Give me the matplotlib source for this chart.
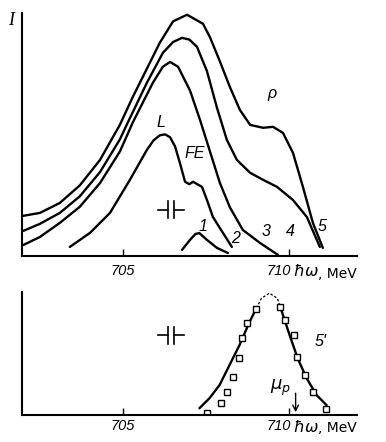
import matplotlib
matplotlib.use("Agg")
import matplotlib.pyplot as plt

# upper panel: spectra 1-5 (energy in MeV, intensity in arb. units)
e5 = [702.00, 702.50, 703.10, 703.70, 704.31, 704.91, 705.30, 705.60, 706.11, 706.51,
      706.93, 707.41, 707.62, 707.92, 708.22, 708.52, 708.83, 709.22, 709.52,
      709.82, 710.12, 710.42, 710.72, 711.02]
i5 = [0.165, 0.177, 0.218, 0.290, 0.395, 0.540, 0.655, 0.737, 0.877, 0.965,
      0.992, 0.955, 0.900, 0.800, 0.695, 0.601, 0.539, 0.527, 0.531,
      0.506, 0.424, 0.284, 0.136, 0.033]
e4 = [702.00, 702.50, 703.10, 703.70, 704.31, 704.91, 705.15, 705.72, 706.20, 706.51,
      706.78, 707.00, 707.23, 707.53, 707.83, 708.13, 708.43, 708.83, 709.22, 709.64,
      710.12, 710.54, 710.93]
i4 = [0.103, 0.132, 0.177, 0.245, 0.345, 0.480, 0.550, 0.712, 0.835, 0.880,
      0.897, 0.890, 0.860, 0.760, 0.610, 0.477, 0.395, 0.342, 0.313, 0.284,
      0.230, 0.160, 0.037]
e3 = [702.00, 702.50, 703.10, 703.70, 704.31, 704.91, 705.30, 705.90, 706.20, 706.42,
      706.66, 707.02, 707.32, 707.62, 707.92, 708.22, 708.61, 709.13, 709.67]
i3 = [0.045, 0.078, 0.136, 0.202, 0.300, 0.430, 0.550, 0.712, 0.778, 0.798,
      0.778, 0.680, 0.560, 0.430, 0.300, 0.200, 0.107, 0.053, 0.004]
e2 = [703.40, 704.01, 704.61, 705.21, 705.72, 705.92, 706.11, 706.27, 706.42, 706.57,
      706.72, 706.87, 707.00, 707.11, 707.38, 707.53, 707.71, 708.01, 708.28]
i2 = [0.037, 0.095, 0.177, 0.313, 0.436, 0.475, 0.496, 0.500, 0.488, 0.450,
      0.380, 0.305, 0.295, 0.305, 0.284, 0.230, 0.160, 0.095, 0.037]
e1 = [706.78, 707.02, 707.18, 707.30, 707.53, 707.83, 708.16]
i1 = [0.025, 0.066, 0.090, 0.094, 0.066, 0.033, 0.012]

# lower panel: curve 5' and measured points
e5p_l = [707.31, 707.61, 707.91, 708.21, 708.51, 708.81, 709.02]
i5p_l = [0.057, 0.138, 0.244, 0.407, 0.569, 0.756, 0.870]
e5p_top = [709.02, 709.17, 709.41, 709.65, 709.77]
i5p_top = [0.870, 0.950, 0.992, 0.950, 0.854]
e5p_r = [709.77, 710.02, 710.26, 710.53, 710.83, 711.13]
i5p_r = [0.854, 0.650, 0.463, 0.300, 0.163, 0.081]
esq = [707.52, 707.94, 708.12, 708.30, 708.48, 708.60, 708.75, 709.02,
       709.74, 709.89, 710.14, 710.23, 710.47, 710.71, 711.10]
isq = [0.016, 0.098, 0.187, 0.309, 0.463, 0.626, 0.748, 0.862,
       0.878, 0.772, 0.650, 0.472, 0.325, 0.187, 0.049]
mu_p = 710.2

ticks = [705, 710]
xlim = (701.96, 712.05)

fig = plt.figure(figsize=(3.86, 4.42), dpi=100)
ax1 = fig.add_axes([0.057, 0.421, 0.868, 0.55])
ax2 = fig.add_axes([0.057, 0.061, 0.868, 0.278])

lw = 1.7
for e, i in [(e5, i5), (e4, i4), (e3, i3), (e2, i2), (e1, i1)]:
    ax1.plot(e, i, color='black', lw=lw, solid_joinstyle='round', solid_capstyle='round')

ax2.plot(e5p_l, i5p_l, color='black', lw=lw, solid_joinstyle='round')
ax2.plot(e5p_r, i5p_r, color='black', lw=lw, solid_joinstyle='round')
ax2.plot(e5p_top, i5p_top, color='black', lw=0.9, ls=(0, (2, 1.5)))
ax2.plot(esq, isq, ls='none', marker='s', ms=4.5, mfc='white', mec='black', mew=1.0)

for ax in (ax1, ax2):
    ax.set_xlim(*xlim)
    ax.set_ylim(0, 1)
    ax.spines['top'].set_visible(False)
    ax.spines['right'].set_visible(False)
    ax.spines['left'].set_linewidth(1.5)
    ax.spines['bottom'].set_linewidth(1.5)
    ax.set_yticks([])
    ax.set_xticks(ticks)
    ax.set_xticklabels([])
    ax.tick_params(axis='x', direction='in', length=5, width=1)
    tr = ax.get_xaxis_transform()
    ax.text(705, -0.035, '705', ha='center', va='top', fontsize=10.5, style='italic',
            family='Liberation Sans', transform=tr)
    ax.text(710.05, -0.035, '710', ha='right', va='top', fontsize=10.5, style='italic',
            family='Liberation Sans', transform=tr)
    ax.text(710.12, -0.03, r'$\hbar\omega$', ha='left', va='top', fontsize=11.5,
            transform=tr)
    ax.text(710.87, -0.045, ', MeV', ha='left', va='top', fontsize=10,
            family='DejaVu Sans', transform=tr)


def brk(ax, x, y, h):
    # small axis-break sign
    ax.plot([x - 0.38, x - 0.1], [y, y], color='black', lw=1.2)
    ax.plot([x + 0.1, x + 0.38], [y, y], color='black', lw=1.2)
    ax.plot([x - 0.1, x - 0.1], [y - h, y + h], color='black', lw=1.2)
    ax.plot([x + 0.1, x + 0.1], [y - h, y + h], color='black', lw=1.2)


brk(ax1, 706.45, 0.19, 0.035)
brk(ax2, 706.45, 0.65, 0.07)

ax1.text(-0.025, 0.97, 'I', transform=ax1.transAxes, ha='right', va='center',
         fontsize=13, style='italic', family='Liberation Serif')
lab = dict(fontsize=11.5, style='italic', family='Liberation Sans', ha='center', va='center')
ax1.text(709.5, 0.67, 'ρ', **lab)
ax1.text(706.15, 0.55, 'L', **lab)
ax1.text(707.15, 0.42, 'FE', **lab)
ax1.text(707.4, 0.12, '1', **lab)
ax1.text(708.4, 0.07, '2', **lab)
ax1.text(709.3, 0.10, '3', **lab)
ax1.text(710.05, 0.10, '4', **lab)
ax1.text(711.0, 0.12, '5', **lab)

ax2.text(710.95, 0.60, "5'", **lab)
ax2.text(709.75, 0.22, r'$\mu_p$', ha='center', va='center', fontsize=13)
ax2.annotate('', xy=(mu_p, 0.0), xytext=(mu_p, 0.2),
             arrowprops=dict(arrowstyle='->', color='black', lw=1.0))

fig.savefig('out.png', dpi=100)
